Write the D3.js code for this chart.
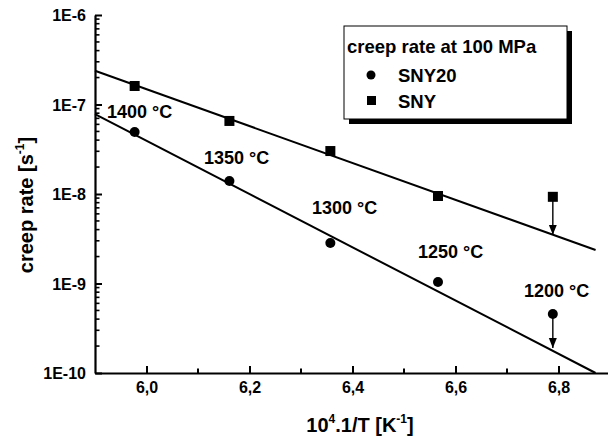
<!DOCTYPE html>
<html>
<head>
<meta charset="utf-8">
<script src="https://cdn.jsdelivr.net/npm/d3@7"></script>
<style>
  body { margin: 0; background: #fff; }
  svg { display: block; }
  text { font-family: "Liberation Sans", Arial, sans-serif; font-weight: bold; fill: #000; }
</style>
</head>
<body>
<svg id="chart" width="608" height="437"></svg>
<script>
// data
const invT = [5.977, 6.161, 6.357, 6.566, 6.789];           // 10^4/T
const tempLabels = ["1400 °C", "1350 °C", "1300 °C", "1250 °C", "1200 °C"];
const sny20 = [4.93e-8, 1.40e-8, 2.84e-9, 1.04e-9, 4.56e-10];
const sny = [1.61e-7, 6.55e-8, 3.02e-8, 9.5e-9, 9.3e-9];
// fitted lines (ends)
const fitX = [5.9, 6.872];
const sny20Fit = [7.8e-8, 1.0e-10];
const snyFit = [2.38e-7, 2.37e-9];
// last points are upper limits, arrow down to the line
const sny20ArrowEnd = 1.9e-10;
const snyArrowEnd = 3.5e-9;
const xTicks = [6.0, 6.2, 6.4, 6.6, 6.8];
const xMinor = [6.1, 6.3, 6.5, 6.7];
const yTicks = [1e-10, 1e-9, 1e-8, 1e-7, 1e-6];

const svg = d3.select("#chart");

const x = d3.scaleLinear().domain([5.9, 6.9]).range([95, 610]);
const y = d3.scaleLog().domain([1e-10, 1e-6]).range([373, 15]);

// y minor ticks 2..9 for each decade
const yMinor = [];
yTicks.slice(0, -1).forEach(d => { for (let k = 2; k < 10; k++) yMinor.push(d * k); });

// x axis
const gx = svg.append("g").attr("transform", "translate(0,373)");
gx.call(d3.axisBottom(x).tickValues(xTicks).tickSize(-7).tickSizeOuter(0)
  .tickFormat(d => d3.format(".1f")(d).replace(".", ",")));
gx.select(".domain").attr("stroke-width", 2.2);
gx.selectAll(".tick line").attr("stroke-width", 2);
gx.selectAll(".tick text").attr("y", 20).attr("dy", 0).style("font-size", "16px").attr("fill", "#000");
gx.selectAll(".minor").data(xMinor).enter().append("line")
  .attr("x1", d => x(d)).attr("x2", d => x(d))
  .attr("y1", 0).attr("y2", -4.5).attr("stroke", "#000").attr("stroke-width", 2);

// y axis
const gy = svg.append("g").attr("transform", "translate(95,0)");
gy.call(d3.axisLeft(y).tickValues(yTicks).tickSize(-7).tickSizeOuter(0)
  .tickFormat(d => "1E" + Math.round(Math.log10(d))));
gy.select(".domain").attr("stroke-width", 2.2);
gy.selectAll(".tick line").attr("stroke-width", 2);
gy.selectAll(".tick text").attr("x", -9).attr("dy", "0.36em").style("font-size", "16px").attr("fill", "#000");
gy.selectAll(".minor").data(yMinor).enter().append("line")
  .attr("y1", d => y(d)).attr("y2", d => y(d))
  .attr("x1", 0).attr("x2", 4.5).attr("stroke", "#000").attr("stroke-width", 1.6);

// axis titles
const xt = svg.append("text").attr("x", 360).attr("y", 432).attr("text-anchor", "middle")
  .style("font-size", "20px");
xt.append("tspan").text("10");
xt.append("tspan").text("4").attr("dy", -9).style("font-size", "12px");
xt.append("tspan").text(".1/T [K").attr("dy", 9);
xt.append("tspan").text("-1").attr("dy", -9).style("font-size", "12px");
xt.append("tspan").text("]").attr("dy", 9);

const yt = svg.append("text").attr("transform", "translate(33,205) rotate(-90)")
  .attr("text-anchor", "middle").style("font-size", "20px");
yt.append("tspan").text("creep rate [s");
yt.append("tspan").text("-1").attr("dy", -9).style("font-size", "12px");
yt.append("tspan").text("]").attr("dy", 9);

// fit lines
const line = d3.line().x(d => x(d[0])).y(d => y(d[1]));
[sny20Fit, snyFit].forEach(f => {
  svg.append("path").datum(fitX.map((d, i) => [d, f[i]]))
    .attr("d", line).attr("fill", "none").attr("stroke", "#000").attr("stroke-width", 2);
});

// arrows
svg.append("defs").append("marker").attr("id", "ah")
  .attr("viewBox", "0 0 10 10").attr("refX", 10).attr("refY", 5)
  .attr("markerWidth", 10).attr("markerHeight", 10).attr("markerUnits", "userSpaceOnUse")
  .attr("orient", "auto")
  .append("path").attr("d", "M0,1 L10,5 L0,9 Z").attr("fill", "#000");
[[sny20[4], sny20ArrowEnd], [sny[4], snyArrowEnd]].forEach(a => {
  svg.append("line").attr("x1", x(invT[4])).attr("x2", x(invT[4]))
    .attr("y1", y(a[0])).attr("y2", y(a[1]))
    .attr("stroke", "#000").attr("stroke-width", 1.4).attr("marker-end", "url(#ah)");
});

// points
svg.selectAll(".c").data(invT).enter().append("circle")
  .attr("cx", d => x(d)).attr("cy", (d, i) => y(sny20[i])).attr("r", 5).attr("fill", "#000");
svg.selectAll(".s").data(invT).enter().append("rect")
  .attr("x", d => x(d) - 5).attr("y", (d, i) => y(sny[i]) - 5)
  .attr("width", 10).attr("height", 10).attr("fill", "#000");

// temperature labels
const labelPos = [[107, 118], [204, 164], [312, 214], [418, 258], [524, 297]];
svg.selectAll(".t").data(tempLabels).enter().append("text")
  .attr("x", (d, i) => labelPos[i][0]).attr("y", (d, i) => labelPos[i][1])
  .style("font-size", "18px").text(d => d);

// legend
const lg = svg.append("g");
lg.append("rect").attr("x", 349).attr("y", 31).attr("width", 223).attr("height", 93).attr("fill", "#000");
lg.append("rect").attr("x", 344).attr("y", 26).attr("width", 223).attr("height", 93)
  .attr("fill", "#fff").attr("stroke", "#000").attr("stroke-width", 1);
lg.append("text").attr("x", 347).attr("y", 53).style("font-size", "18.5px").text("creep rate at 100 MPa");
lg.append("circle").attr("cx", 371).attr("cy", 75).attr("r", 4.5).attr("fill", "#000");
lg.append("text").attr("x", 398).attr("y", 82).style("font-size", "18.5px").text("SNY20");
lg.append("rect").attr("x", 367).attr("y", 96).attr("width", 9).attr("height", 9).attr("fill", "#000");
lg.append("text").attr("x", 398).attr("y", 108).style("font-size", "18.5px").text("SNY");
</script>
</body>
</html>
